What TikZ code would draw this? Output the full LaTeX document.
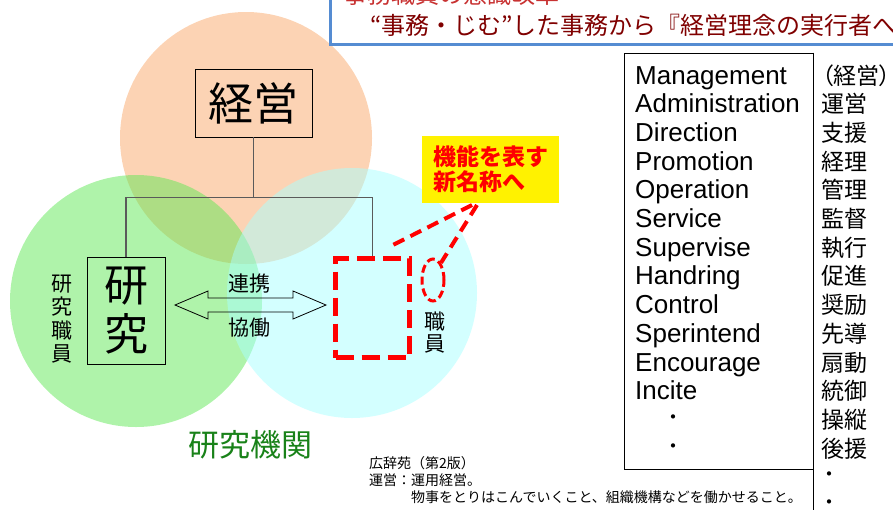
\documentclass[tikz,border=0pt]{standalone}
\usepackage{fontspec}
\setmainfont{Noto Sans CJK JP}
\newfontfamily\latf{Liberation Sans}
\usetikzlibrary{shapes.geometric}
\definecolor{orangeC}{RGB}{250,168,105}
\definecolor{greenC}{RGB}{95,232,85}
\definecolor{cyanC}{RGB}{168,255,255}
\definecolor{titleblue}{RGB}{85,140,210}
\definecolor{titlered}{RGB}{200,50,50}
\definecolor{titledark}{RGB}{128,0,0}
\definecolor{connC}{RGB}{90,90,90}
\definecolor{instgreen}{RGB}{25,130,25}
\newcommand\fsz[1]{\fontsize{#1}{#1}\selectfont}
\begin{document}
\begin{tikzpicture}[x=1pt,y=-1pt,
  box/.style={draw=black, line width=0.9pt, inner sep=0},
  conn/.style={draw=connC, line width=1.3pt},
  reddash/.style={draw=red, line width=5pt, dash pattern=on 18pt off 8pt},
  callout/.style={draw=red, line width=4pt, dash pattern=on 12pt off 7pt},
  latword/.style={anchor=base west, inner sep=0, font=\latf\fsz{26}},
  jpword/.style={anchor=base west, inner sep=0, font=\fsz{23}},
  cite/.style={anchor=west, inner sep=0, font=\fsz{14}}]
\useasboundingbox (0,0) rectangle (893,509);
\clip (0,0) rectangle (893,509);
% circles
\fill[orangeC, fill opacity=0.5] (246,138) circle[radius=126];
\fill[greenC, fill opacity=0.5] (136,301) circle[radius=126];
\fill[cyanC, fill opacity=0.5] (352,293) circle[radius=125];
% title box
\draw[draw=titleblue, line width=3pt, fill=white] (330,-20) rectangle (900,44);
\node[anchor=west, inner sep=0, text=titlered, font=\fsz{24}] (t1) at (343,-6) {事務職員の意識改革};
\node[anchor=west, inner sep=0, text=titledark, font=\fsz{24}] (t2) at (370,25) {“事務・じむ”した事務から『経営理念の実行者へ};
% boxes
\node[box, minimum width=117, minimum height=68, font=\fsz{45}] (keiei) at (253.5,103) {経営};
\node[box, minimum width=78, minimum height=107, align=center, font=\fontsize{44}{49}\selectfont] (kenkyu) at (126,310.5) {研\\究};
\node[reddash, minimum width=74, minimum height=99, inner sep=0] (redbox) at (372.5,308) {};
\node[align=center, inner sep=0, font=\fontsize{21}{23.5}\selectfont] (kstaff) at (62,319) {研\\究\\職\\員};
\node[align=center, inner sep=0, font=\fontsize{21}{22}\selectfont] (staff) at (435,333) {職\\員};
\node[ellipse, draw=red, line width=3pt, dash pattern=on 8pt off 4pt, minimum width=22, minimum height=42, inner sep=0] (ell) at (433,280) {};
% connectors
\draw[conn] (keiei.south) -- ++(0,60) coordinate (j);
\draw[conn] (kenkyu.north) |- (j) -| (redbox.north);
% double arrow
\coordinate (aL) at (175,305);
\coordinate (aR) at (326,305);
\draw[line width=0.8pt, line join=miter] (aL) -- ++(33,-14) -- ++(0,7) -- ++(85,0) -- ++(0,-7) -- (aR) -- ++(-33,14) -- ++(0,-7) -- ++(-85,0) -- ++(0,7) -- cycle;
\node[inner sep=0, font=\fsz{21}] (renkei) at (249,284) {連携};
\node[inner sep=0, font=\fsz{21}] (kyodo) at (249,328) {協働};
% yellow callout
\node[fill=yellow, minimum width=137, minimum height=67, inner sep=0, align=left, text=red, font=\bfseries\fontsize{23}{25}\selectfont] (yel) at (490.5,169.5) {機能を表す\\新名称へ};
\coordinate (cp1) at (472,205);
\coordinate (cp2) at (477,205);
\coordinate (c1) at (389,247);
\draw[callout] (cp1) -- (c1);
\draw[callout] (cp2) -- (ell.65);
% institute label
\node[inner sep=0, text=instgreen, font=\fsz{31}] (inst) at (250,445) {研究機関};
% citation
\node[cite] (q1) at (369,463) {広辞苑（第2版）};
\node[cite] (q2) at (369,480) {運営：運用経営。};
\node[cite] (q3) at (411,497) {物事をとりはこんでいくこと、組織機構などを働かせること。};
% table
\node[draw=black, line width=1pt, minimum width=189, minimum height=416, inner sep=0] (tbl) at (718.5,261) {};
\draw[line width=1pt] (tbl.north east) -- ++(0,460);
\foreach \w [count=\i from 0] in {Management,Administration,Direction,Promotion,Operation,Service,Supervise,Handring,Control,Sperintend,Encourage,Incite}
  \node[latword] (e\i) at (635,{84+28.7*\i}) {\w};
\node[inner sep=0, font=\fsz{20}] (ed1) at (673,420) {・};
\node[inner sep=0, font=\fsz{20}] (ed2) at (673,449) {・};
\node[jpword, font=\fsz{23}\addfontfeature{RawFeature=+palt}] (j0) at (822,84) {（経営）};
\foreach \w [count=\i from 1] in {運営,支援,経理,管理,監督,執行,促進,奨励,先導,扇動,統御,操縦,後援}
  \node[jpword] (j\i) at (821,{84+28.7*\i}) {\w};
\node[inner sep=0, font=\fsz{20}] (jd1) at (829,477) {・};
\node[inner sep=0, font=\fsz{20}] (jd2) at (829,505) {・};
\end{tikzpicture}
\end{document}
